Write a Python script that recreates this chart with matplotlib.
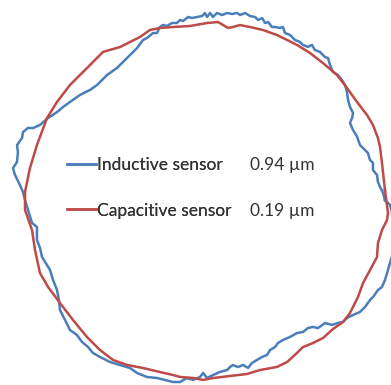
import numpy as np
import matplotlib
matplotlib.use("Agg")
import matplotlib.pyplot as plt
from matplotlib.lines import Line2D

# Roundness profiles (angle in degrees, radius in arbitrary units)
red_theta = [3.5, 12.1, 17.2, 20.1, 24.4, 28.0, 33.2, 38.6, 43.8, 49.6, 54.8, 59.6, 63.2,
             66.7, 71.4, 75.7, 78.9, 81.0, 82.6, 84.3, 86.0, 89.5, 95.1, 100.6, 104.7, 108.0,
             111.8, 119.0, 124.5, 131.7, 139.4, 146.3, 152.4, 161.6, 169.4, 177.1, 182.9,
             189.5, 196.0, 203.5, 208.6, 215.0, 221.9, 228.9, 234.7, 239.8, 244.4, 249.5,
             255.1, 259.4, 261.8, 266.0, 269.2, 272.4, 278.0, 283.5, 287.9, 293.3, 296.9,
             301.0, 303.7, 307.1, 310.6, 314.9, 318.7, 322.2, 327.8, 332.5, 337.2, 341.9,
             346.3, 350.7, 354.0, 356.2]
red_r = [179.8, 180.5, 182.7, 183.6, 183.9, 183.0, 181.0, 181.1, 182.1, 181.2, 181.2, 180.9,
         180.5, 180.7, 180.4, 179.6, 179.3, 176.2, 174.5, 176.9, 179.4, 178.0, 175.7, 177.0,
         178.9, 179.8, 176.6, 176.1, 180.9, 178.1, 178.4, 178.5, 178.9, 177.6, 178.6, 180.7,
         180.7, 175.9, 177.4, 180.5, 179.4, 177.7, 178.1, 180.4, 182.6, 183.9, 181.8, 178.3,
         177.0, 177.0, 177.8, 177.4, 179.0, 177.2, 176.7, 177.9, 177.6, 180.7, 180.5, 177.4,
         175.6, 178.1, 180.5, 180.7, 183.2, 182.8, 180.2, 177.6, 178.4, 180.4, 177.5, 178.9,
         182.5, 182.9]

blue_theta = [0.3, 2.6, 4.6, 6.3, 8.6, 10.5, 12.8, 14.0, 16.5, 17.7, 19.9, 23.2, 25.7, 28.4,
              29.5, 30.8, 33.0, 35.3, 37.6, 39.7, 41.6, 43.6, 45.3, 47.5, 49.4, 50.3, 52.5,
              54.1, 55.7, 56.4, 58.0, 59.3, 60.9, 63.0, 64.7, 66.0, 66.7, 68.2, 69.1, 70.7,
              71.5, 72.8, 73.8, 74.9, 76.5, 78.1, 79.5, 80.5, 81.9, 83.5, 84.9, 86.5, 87.7,
              88.6, 89.5, 90.2, 91.1, 92.6, 94.2, 95.4, 97.1, 98.0, 99.1, 100.7, 102.4, 103.6,
              104.7, 106.1, 107.4, 109.7, 111.2, 114.1, 118.8, 123.6, 128.0, 131.6, 133.1,
              136.1, 139.8, 143.8, 146.6, 149.1, 152.2, 155.3, 157.1, 157.6, 159.3, 161.0,
              163.5, 165.4, 168.3, 170.3, 172.2, 175.1, 177.2, 179.7, 182.9, 187.2, 188.8,
              193.0, 195.9, 198.9, 202.0, 203.9, 207.4, 210.9, 214.0, 216.8, 220.3, 223.6,
              226.2, 228.8, 231.2, 233.5, 235.9, 239.3, 242.5, 245.7, 248.3, 251.6, 254.7,
              257.3, 259.8, 262.0, 264.0, 266.0, 268.2, 269.2, 270.5, 272.5, 274.8, 277.3,
              278.4, 279.5, 281.1, 282.9, 284.3, 286.0, 287.9, 289.9, 291.8, 293.4, 295.5,
              297.0, 299.1, 301.9, 304.7, 306.7, 308.9, 310.5, 311.5, 314.4, 315.6, 317.4,
              318.7, 320.4, 322.3, 324.3, 326.4, 329.0, 330.2, 332.7, 334.0, 336.2, 339.3,
              341.4, 345.0, 350.0, 354.0, 357.0, 358.8, 359.4]
blue_r = [179.5, 177.7, 175.1, 173.5, 173.5, 170.3, 171.8, 169.5, 169.4, 167.5, 164.3, 164.7,
          163.7, 164.2, 168.4, 171.8, 172.4, 174.7, 178.6, 181.4, 182.4, 182.8, 181.4, 184.4,
          188.3, 187.1, 187.9, 186.5, 188.9, 185.0, 184.0, 185.0, 184.2, 186.3, 185.9, 190.5,
          188.4, 187.4, 186.3, 189.6, 187.7, 191.5, 188.5, 190.5, 190.3, 192.1, 189.2, 190.6,
          188.9, 189.2, 186.7, 188.4, 184.2, 188.1, 184.0, 188.0, 185.0, 184.2, 183.5, 184.8,
          181.4, 182.8, 180.3, 181.1, 179.2, 181.1, 179.9, 174.9, 176.0, 173.2, 172.7, 167.6,
          163.1, 159.8, 159.9, 159.0, 158.8, 160.2, 164.3, 167.8, 170.7, 173.1, 178.0, 182.1,
          187.3, 191.9, 195.1, 194.0, 196.6, 193.8, 192.5, 195.3, 192.3, 186.2, 182.7, 180.5,
          177.7, 174.9, 170.5, 173.0, 172.0, 172.8, 170.9, 170.1, 171.7, 173.1, 176.8, 181.8,
          184.1, 187.1, 185.7, 187.4, 187.4, 189.1, 188.3, 187.2, 184.9, 183.3, 185.1, 185.5,
          183.5, 183.5, 183.9, 182.8, 178.0, 179.4, 176.1, 172.0, 177.0, 174.2, 171.6, 170.4,
          167.8, 166.3, 169.2, 168.2, 172.3, 168.5, 167.1, 165.9, 165.8, 162.4, 161.7, 159.4,
          159.1, 160.1, 160.6, 163.3, 163.2, 165.6, 169.7, 170.8, 177.1, 180.1, 183.2, 183.6,
          186.4, 190.2, 191.5, 192.0, 193.1, 194.1, 196.3, 196.1, 195.1, 194.6, 194.5, 192.0,
          188.0, 186.5, 184.5, 182.5]

labels = ["Inductive sensor", "Capacitive sensor"]
values = ["0.94 µm", "0.19 µm"]
colors = ["#4A7EBB", "#BE4B48"]

W, H = 391, 385
fig = plt.figure(figsize=(W / 100, H / 100), dpi=100)
cx, cy = 205.5, 184.0  # centre in pixels from lower-left
R = 250.0
ax = fig.add_axes([(cx - R) / W, (cy - R) / H, 2 * R / W, 2 * R / H], projection="polar")
ax.set_ylim(0, R)
ax.set_axis_off()


def closed(t, r):
    t = np.deg2rad(np.asarray(t + [t[0] + 360.0]))
    return t, np.asarray(r + [r[0]])


for th, rr, c in [(blue_theta, blue_r, colors[0]), (red_theta, red_r, colors[1])]:
    t, r = closed(th, rr)
    ax.plot(t, r, color=c, lw=1.8, solid_joinstyle="round")

fs = 12.5
common = dict(loc="upper left", frameon=False, labelspacing=1.70, borderpad=0,
              borderaxespad=0, prop={"family": "Lato", "size": fs}, labelcolor="#333333")
handles = [Line2D([], [], color=c, lw=1.8) for c in colors]
leg1 = fig.legend(handles, labels, bbox_to_anchor=(67 / W, 1 - 157 / H),
                  handlelength=1.67, handletextpad=0.05, **common)
blank = [Line2D([], [], color="none") for _ in values]
leg2 = fig.legend(blank, values, bbox_to_anchor=(250 / W, 1 - 157 / H),
                  handlelength=0, handletextpad=0, **common)
fig.add_artist(leg1)

fig.savefig("out.png", dpi=100)
